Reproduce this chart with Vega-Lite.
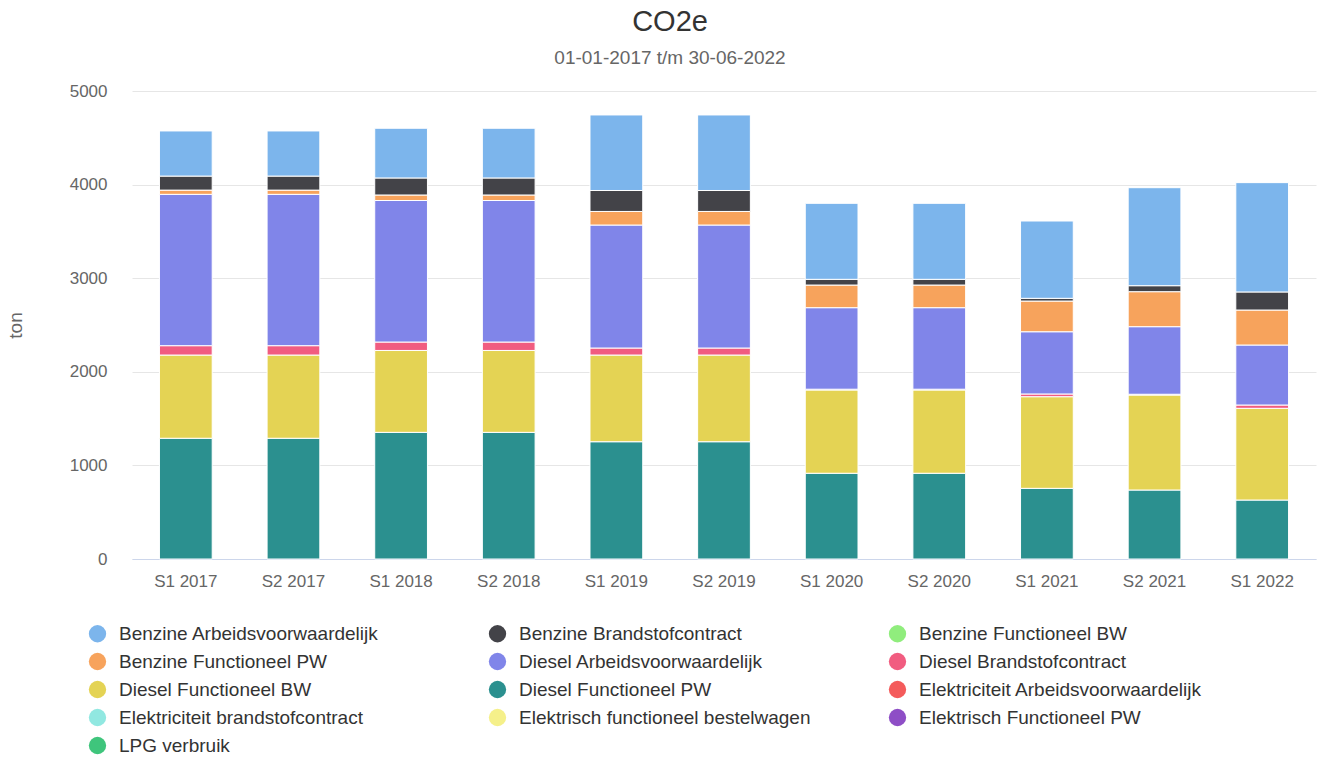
{
  "$schema": "https://vega.github.io/schema/vega-lite/v6.json",
  "width": 1184,
  "height": 468,
  "autosize": {"type": "none"},
  "padding": {"left": 132, "top": 91, "right": 3, "bottom": 199},
  "background": "#ffffff",
  "title": {
    "text": "CO2e",
    "subtitle": "01-01-2017 t/m 30-06-2022",
    "fontSize": 29,
    "fontWeight": "normal",
    "color": "#333333",
    "subtitleFontSize": 19,
    "subtitleColor": "#666666",
    "subtitlePadding": 12,
    "anchor": "middle",
    "frame": "group",
    "dx": -54,
    "offset": 14
  },
  "data": {
    "values": [
      {"period": "S1 2017", "series": "Diesel Functioneel PW", "value": 1290},
      {"period": "S1 2017", "series": "Diesel Functioneel BW", "value": 889},
      {"period": "S1 2017", "series": "Diesel Brandstofcontract", "value": 100},
      {"period": "S1 2017", "series": "Diesel Arbeidsvoorwaardelijk", "value": 1617},
      {"period": "S1 2017", "series": "Benzine Functioneel PW", "value": 45},
      {"period": "S1 2017", "series": "Benzine Brandstofcontract", "value": 150},
      {"period": "S1 2017", "series": "Benzine Arbeidsvoorwaardelijk", "value": 482},
      {"period": "S2 2017", "series": "Diesel Functioneel PW", "value": 1290},
      {"period": "S2 2017", "series": "Diesel Functioneel BW", "value": 889},
      {"period": "S2 2017", "series": "Diesel Brandstofcontract", "value": 100},
      {"period": "S2 2017", "series": "Diesel Arbeidsvoorwaardelijk", "value": 1617},
      {"period": "S2 2017", "series": "Benzine Functioneel PW", "value": 45},
      {"period": "S2 2017", "series": "Benzine Brandstofcontract", "value": 150},
      {"period": "S2 2017", "series": "Benzine Arbeidsvoorwaardelijk", "value": 482},
      {"period": "S1 2018", "series": "Diesel Functioneel PW", "value": 1353},
      {"period": "S1 2018", "series": "Diesel Functioneel BW", "value": 875},
      {"period": "S1 2018", "series": "Diesel Brandstofcontract", "value": 90},
      {"period": "S1 2018", "series": "Diesel Arbeidsvoorwaardelijk", "value": 1512},
      {"period": "S1 2018", "series": "Benzine Functioneel PW", "value": 59},
      {"period": "S1 2018", "series": "Benzine Brandstofcontract", "value": 182},
      {"period": "S1 2018", "series": "Benzine Arbeidsvoorwaardelijk", "value": 531},
      {"period": "S2 2018", "series": "Diesel Functioneel PW", "value": 1353},
      {"period": "S2 2018", "series": "Diesel Functioneel BW", "value": 875},
      {"period": "S2 2018", "series": "Diesel Brandstofcontract", "value": 90},
      {"period": "S2 2018", "series": "Diesel Arbeidsvoorwaardelijk", "value": 1512},
      {"period": "S2 2018", "series": "Benzine Functioneel PW", "value": 59},
      {"period": "S2 2018", "series": "Benzine Brandstofcontract", "value": 182},
      {"period": "S2 2018", "series": "Benzine Arbeidsvoorwaardelijk", "value": 531},
      {"period": "S1 2019", "series": "Diesel Functioneel PW", "value": 1253},
      {"period": "S1 2019", "series": "Diesel Functioneel BW", "value": 926},
      {"period": "S1 2019", "series": "Diesel Brandstofcontract", "value": 75},
      {"period": "S1 2019", "series": "Diesel Arbeidsvoorwaardelijk", "value": 1314},
      {"period": "S1 2019", "series": "Benzine Functioneel PW", "value": 145},
      {"period": "S1 2019", "series": "Benzine Brandstofcontract", "value": 224},
      {"period": "S1 2019", "series": "Benzine Arbeidsvoorwaardelijk", "value": 807},
      {"period": "S2 2019", "series": "Diesel Functioneel PW", "value": 1253},
      {"period": "S2 2019", "series": "Diesel Functioneel BW", "value": 926},
      {"period": "S2 2019", "series": "Diesel Brandstofcontract", "value": 75},
      {"period": "S2 2019", "series": "Diesel Arbeidsvoorwaardelijk", "value": 1314},
      {"period": "S2 2019", "series": "Benzine Functioneel PW", "value": 145},
      {"period": "S2 2019", "series": "Benzine Brandstofcontract", "value": 224},
      {"period": "S2 2019", "series": "Benzine Arbeidsvoorwaardelijk", "value": 807},
      {"period": "S1 2020", "series": "Diesel Functioneel PW", "value": 916},
      {"period": "S1 2020", "series": "Diesel Functioneel BW", "value": 890},
      {"period": "S1 2020", "series": "Diesel Brandstofcontract", "value": 8},
      {"period": "S1 2020", "series": "Diesel Arbeidsvoorwaardelijk", "value": 871},
      {"period": "S1 2020", "series": "Benzine Functioneel PW", "value": 242},
      {"period": "S1 2020", "series": "Benzine Brandstofcontract", "value": 61},
      {"period": "S1 2020", "series": "Benzine Arbeidsvoorwaardelijk", "value": 812},
      {"period": "S2 2020", "series": "Diesel Functioneel PW", "value": 916},
      {"period": "S2 2020", "series": "Diesel Functioneel BW", "value": 890},
      {"period": "S2 2020", "series": "Diesel Brandstofcontract", "value": 8},
      {"period": "S2 2020", "series": "Diesel Arbeidsvoorwaardelijk", "value": 871},
      {"period": "S2 2020", "series": "Benzine Functioneel PW", "value": 242},
      {"period": "S2 2020", "series": "Benzine Brandstofcontract", "value": 61},
      {"period": "S2 2020", "series": "Benzine Arbeidsvoorwaardelijk", "value": 812},
      {"period": "S1 2021", "series": "Diesel Functioneel PW", "value": 755},
      {"period": "S1 2021", "series": "Diesel Functioneel BW", "value": 979},
      {"period": "S1 2021", "series": "Diesel Brandstofcontract", "value": 29},
      {"period": "S1 2021", "series": "Diesel Arbeidsvoorwaardelijk", "value": 665},
      {"period": "S1 2021", "series": "Benzine Functioneel PW", "value": 328},
      {"period": "S1 2021", "series": "Benzine Brandstofcontract", "value": 29},
      {"period": "S1 2021", "series": "Benzine Arbeidsvoorwaardelijk", "value": 826},
      {"period": "S2 2021", "series": "Diesel Functioneel PW", "value": 737},
      {"period": "S2 2021", "series": "Diesel Functioneel BW", "value": 1015},
      {"period": "S2 2021", "series": "Diesel Brandstofcontract", "value": 8},
      {"period": "S2 2021", "series": "Diesel Arbeidsvoorwaardelijk", "value": 722},
      {"period": "S2 2021", "series": "Benzine Functioneel PW", "value": 374},
      {"period": "S2 2021", "series": "Benzine Brandstofcontract", "value": 64},
      {"period": "S2 2021", "series": "Benzine Arbeidsvoorwaardelijk", "value": 1047},
      {"period": "S1 2022", "series": "Diesel Functioneel PW", "value": 630},
      {"period": "S1 2022", "series": "Diesel Functioneel BW", "value": 980},
      {"period": "S1 2022", "series": "Diesel Brandstofcontract", "value": 35},
      {"period": "S1 2022", "series": "Diesel Arbeidsvoorwaardelijk", "value": 641},
      {"period": "S1 2022", "series": "Benzine Functioneel PW", "value": 374},
      {"period": "S1 2022", "series": "Benzine Brandstofcontract", "value": 193},
      {"period": "S1 2022", "series": "Benzine Arbeidsvoorwaardelijk", "value": 1168}
    ]
  },
  "mark": {"type": "bar", "stroke": "#ffffff", "strokeWidth": 1},
  "encoding": {
    "x": {
      "field": "period",
      "type": "nominal",
      "sort": null,
      "scale": {"paddingInner": 0.51, "paddingOuter": 0.255},
      "axis": {
        "title": null,
        "labelAngle": 0,
        "labelFontSize": 17,
        "labelColor": "#666666",
        "labelPadding": 14,
        "ticks": false,
        "domainColor": "#ccd6eb",
        "domainWidth": 1,
        "grid": false
      }
    },
    "y": {
      "field": "value",
      "type": "quantitative",
      "stack": "zero",
      "scale": {"domain": [0, 5000], "nice": false},
      "axis": {
        "title": "ton",
        "titleFontSize": 19,
        "titleFontWeight": "normal",
        "titleColor": "#666666",
        "titlePadding": 44,
        "values": [0, 1000, 2000, 3000, 4000, 5000],
        "format": "d",
        "labelFontSize": 17,
        "labelColor": "#666666",
        "labelPadding": 25,
        "ticks": false,
        "domain": false,
        "gridColor": "#e6e6e6",
        "gridWidth": 1
      }
    },
    "color": {
      "field": "series",
      "type": "nominal",
      "scale": {
        "domain": [
          "Benzine Arbeidsvoorwaardelijk",
          "Benzine Brandstofcontract",
          "Benzine Functioneel BW",
          "Benzine Functioneel PW",
          "Diesel Arbeidsvoorwaardelijk",
          "Diesel Brandstofcontract",
          "Diesel Functioneel BW",
          "Diesel Functioneel PW",
          "Elektriciteit Arbeidsvoorwaardelijk",
          "Elektriciteit brandstofcontract",
          "Elektrisch functioneel bestelwagen",
          "Elektrisch Functioneel PW",
          "LPG verbruik"
        ],
        "range": [
          "#7cb5ec", "#434348", "#90ed7d", "#f7a35c", "#8085e9", "#f15c80",
          "#e4d354", "#2b908f", "#f45b5b", "#91e8e1", "#f5f08a", "#8e4ec6", "#3fc57c"
        ]
      },
      "legend": {
        "title": null,
        "orient": "none",
        "legendX": -44,
        "legendY": 533,
        "direction": "horizontal",
        "columns": 3,
        "gridAlign": "all",
        "columnPadding": 77,
        "rowPadding": 8,
        "padding": 0,
        "symbolType": "circle",
        "symbolSize": 300,
        "symbolStrokeWidth": 0,
        "symbolOpacity": 1,
        "labelFontSize": 19,
        "labelColor": "#333333",
        "labelOffset": 12,
        "labelLimit": 400
      }
    },
    "order": {"field": "series", "sort": "descending"}
  },
  "config": {
    "font": "Liberation Sans",
    "view": {"stroke": null}
  }
}
